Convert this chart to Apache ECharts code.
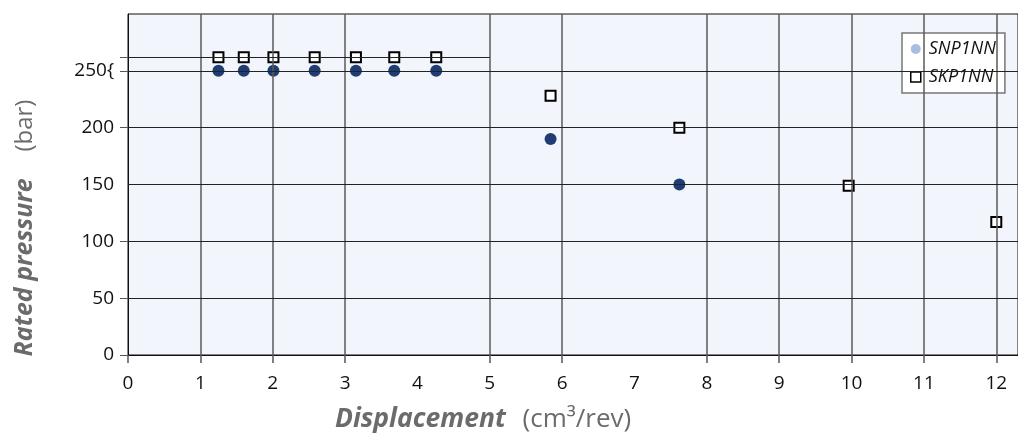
<!DOCTYPE html>
<html>
<head>
<meta charset="utf-8">
<script src="https://cdn.jsdelivr.net/npm/echarts@6/dist/echarts.min.js"></script>
<style>
html,body{margin:0;padding:0;background:#fff;}
#chart{width:1018px;height:437px;}
</style>
</head>
<body>
<div id="chart"></div>
<script>
// ---- data ----
const seriesNames = ['SNP1NN', 'SKP1NN'];
const snpX = [1.25, 1.6, 2.01, 2.58, 3.15, 3.68, 4.26, 5.84, 7.62];
const snpY = [250, 250, 250, 250, 250, 250, 250, 190, 150];
const skpX = [1.25, 1.6, 2.01, 2.58, 3.15, 3.68, 4.26, 5.84, 7.62, 9.96, 12.0];
const skpY = [262, 262, 262, 262, 262, 262, 262, 228, 200, 149, 117];
const xTickValues = [0, 1, 2, 3, 4, 5, 6, 7, 8, 9, 10, 11, 12];
const xGridValues = [1, 2, 3, 5, 6, 8, 9, 10, 11, 12];
const yTickValues = [0, 50, 100, 150, 200, 250];
const yTickLabels = ['0', '50', '100', '150', '200', '250{'];
const yGridValues = [50, 100, 150, 200, 250];
const upperRefLine = { y: 262, xFrom: 0, xTo: 5 };

const FONT = 'Open Sans';
const chart = echarts.init(document.getElementById('chart'), null, { renderer: 'canvas' });

const markLineData = [];
xGridValues.forEach(v => markLineData.push({ xAxis: v, lineStyle: { color: '#5a5a5a', width: 1.5, type: 'solid' } }));
yGridValues.forEach(v => markLineData.push({ yAxis: v, lineStyle: { color: '#222', width: 1, type: 'solid' } }));
markLineData.push([
  { coord: [upperRefLine.xFrom, upperRefLine.y], lineStyle: { color: '#222', width: 1, type: 'solid' } },
  { coord: [upperRefLine.xTo, upperRefLine.y] }
]);

const option = {
  animation: false,
  backgroundColor: '#ffffff',
  grid: {
    left: 128, right: 0, top: 14, bottom: 82,
    show: true, backgroundColor: '#f2f5fb', borderColor: '#111', borderWidth: 1
  },
  xAxis: {
    type: 'value', min: 0, max: 12.3, interval: 1,
    axisLine: { show: true, onZero: false, lineStyle: { color: '#111', width: 1 } },
    axisTick: { show: true, customValues: [0].concat(xGridValues), length: 8, inside: false, lineStyle: { color: '#555', width: 1.5 } },
    axisLabel: { customValues: xTickValues, color: '#111', fontSize: 19, fontFamily: FONT, margin: 19 },
    splitLine: { show: false }
  },
  yAxis: {
    type: 'value', min: 0, max: 300, interval: 50,
    axisLine: { show: true, onZero: false, lineStyle: { color: '#111', width: 1 } },
    axisTick: { show: true, customValues: [0, 50, 100, 200, 250, 262], length: 8, lineStyle: { color: '#555', width: 1 } },
    axisLabel: {
      customValues: yTickValues, color: '#111', fontSize: 19, fontFamily: FONT, margin: 14,
      formatter: v => yTickLabels[yTickValues.indexOf(v)]
    },
    splitLine: { show: false }
  },
  legend: {
    orient: 'vertical', left: 902, top: 33,
    padding: [7, 9, 7, 8], itemGap: 10, itemWidth: 10, itemHeight: 10,
    backgroundColor: '#ffffff', borderColor: '#777', borderWidth: 1.5,
    textStyle: { fontFamily: FONT, fontStyle: 'italic', fontSize: 18, color: '#111', padding: [0, 0, 0, 3] },
    data: [
      { name: seriesNames[0], icon: 'circle', itemStyle: { color: '#a9bce2', borderWidth: 0, opacity: 1 } },
      { name: seriesNames[1], icon: 'rect', itemStyle: { color: '#ffffff', borderColor: '#000', borderWidth: 1.5, opacity: 1 } }
    ]
  },
  series: [
    {
      name: 'grid-lines', type: 'scatter', data: [], silent: true,
      markLine: { silent: true, symbol: 'none', label: { show: false }, animation: false, data: markLineData },
      z: 1
    },
    {
      name: seriesNames[0], type: 'scatter', symbol: 'circle', symbolSize: 12,
      itemStyle: { color: '#1f3d73', opacity: 1 },
      data: snpX.map((x, i) => [x, snpY[i]]), z: 3
    },
    {
      name: seriesNames[1], type: 'scatter', symbol: 'rect', symbolSize: 10,
      itemStyle: { color: '#ffffff', borderColor: '#000', borderWidth: 2, opacity: 1 },
      data: skpX.map((x, i) => [x, skpY[i]]), z: 4
    }
  ],
  graphic: [
    {
      type: 'text', left: 335, top: 406,
      style: {
        text: '{b|Displacement}     {n|(cm³/rev)}',
        rich: {
          b: { fontFamily: FONT, fontWeight: 'bold', fontStyle: 'italic', fontSize: 26.5, fill: '#6b6b6b' },
          n: { fontFamily: FONT, fontSize: 26, fill: '#6b6b6b' }
        }
      }
    },
    {
      type: 'text', x: 25, y: 228, rotation: Math.PI / 2,
      style: {
        text: '{b|Rated pressure}        {n|(bar)}',
        align: 'center', verticalAlign: 'middle',
        rich: {
          b: { fontFamily: FONT, fontWeight: 'bold', fontStyle: 'italic', fontSize: 25, fill: '#6b6b6b' },
          n: { fontFamily: FONT, fontSize: 24, fill: '#6b6b6b' }
        }
      }
    }
  ]
};
chart.setOption(option);
</script>
</body>
</html>
